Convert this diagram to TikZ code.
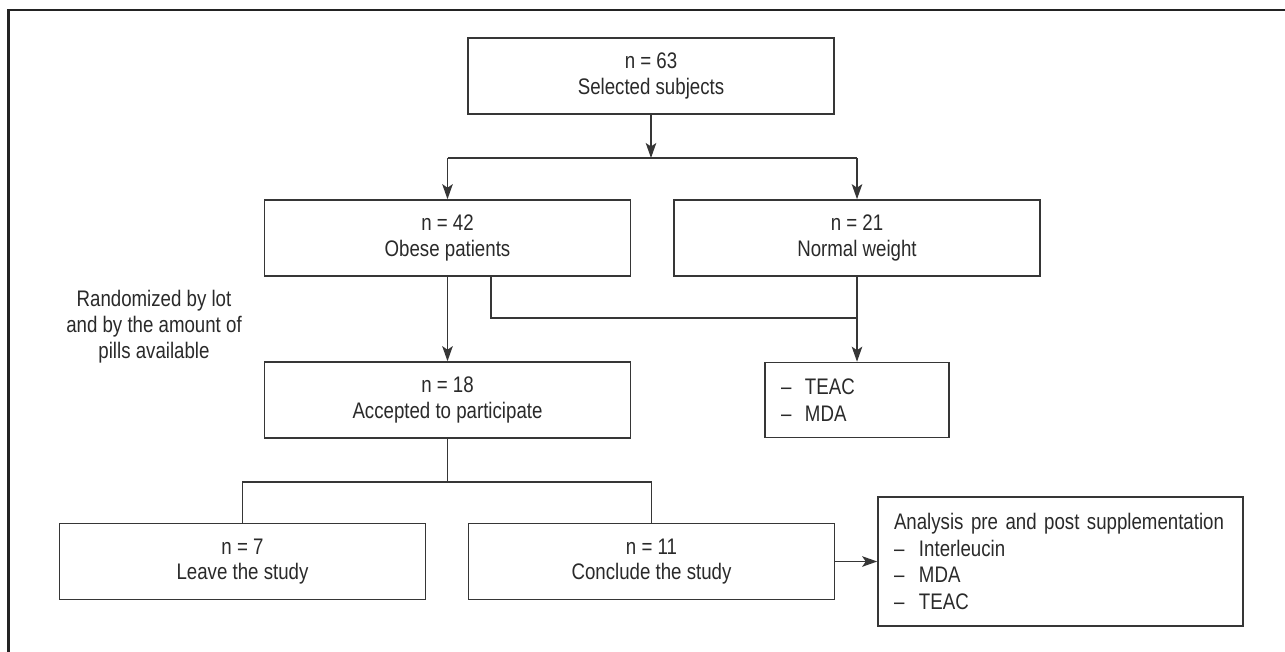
\documentclass[tikz,border=0pt]{standalone}
\usepackage{fontspec}
\setmainfont{Liberation Sans}[FakeStretch=0.83]
\usetikzlibrary{arrows.meta}
\definecolor{ink}{HTML}{2A2A2A}
\definecolor{linec}{HTML}{363636}
\definecolor{framec}{HTML}{232323}
\begin{document}
\begin{tikzpicture}[x=1pt,y=-1pt,
  txt/.style={text=ink, font=\fontsize{22.5}{25.5}\selectfont},
  box/.style={txt, draw=linec, line width=1.6pt, minimum width=366pt, minimum height=76pt, inner sep=0pt, align=center},
  conn/.style={draw=linec, line width=1.6pt},
  arr/.style={conn, -{Stealth[length=15pt,width=10.5pt,inset=3.5pt]}}]
\useasboundingbox (0,0) rectangle (1285,651);
\fill[white] (0,0) rectangle (1285,651);
\draw[line width=2.8pt, draw=framec] (8.5,652) -- (8.5,10) -- (1286,10);

\node[box] (b63) at (651,76) {n = 63\\Selected subjects};
\node[box] (b42) at (447.5,238) {n = 42\\Obese patients};
\node[box] (b21) at (857,238) {n = 21\\Normal weight};
\node[box] (b18) at (447.5,400) {n = 18\\Accepted to participate};
\node[box, minimum width=184pt, minimum height=75pt, text width=152pt, align=left,
  font=\fontsize{22.5}{27}\selectfont] (teac) at (857,400)
  {\makebox[24pt][l]{–}TEAC\\\makebox[24pt][l]{–}MDA};
\node[box] (b7) at (242.5,561.5) {n = 7\\Leave the study};
\node[box] (b11) at (651.5,561.5) {n = 11\\Conclude the study};
\node[box, minimum width=365pt, minimum height=129pt, text width=333pt, align=left,
  font=\fontsize{22.5}{26.5}\selectfont] (ana) at (1060.5,561.5)
  {\mbox{Analysis pre and post supplementation}\\\makebox[25pt][l]{–}Interleucin\\\makebox[25pt][l]{–}MDA\\\makebox[25pt][l]{–}TEAC};
\node[txt, align=center, font=\fontsize{22.5}{26}\selectfont] (rnd) at (154,327)
  {Randomized by lot\\and by the amount of\\pills available};

% connectors
\coordinate (j1) at (651,158);
\coordinate (jl) at (447.5,158);
\coordinate (jr) at (857,158);
\draw[arr] (b63.south) -- (j1);
\draw[conn] (jl) -- (jr);
\draw[arr] (jl) -- (b42.north);
\draw[arr] (jr) -- (b21.north);
\draw[arr] (b42.south) -- (b18.north);
\coordinate (k) at (857,318);
\draw[conn] ([xshift=43.5pt]b42.south) |- (k);
\draw[arr] (b21.south) -- (teac.north);
\coordinate (m) at (447.5,482);
\draw[conn] (b18.south) -- (m);
\draw[conn] (b7.north) |- (m) -| (b11.north);
\draw[arr] (b11.east) -- (ana.west);
\end{tikzpicture}
\end{document}
